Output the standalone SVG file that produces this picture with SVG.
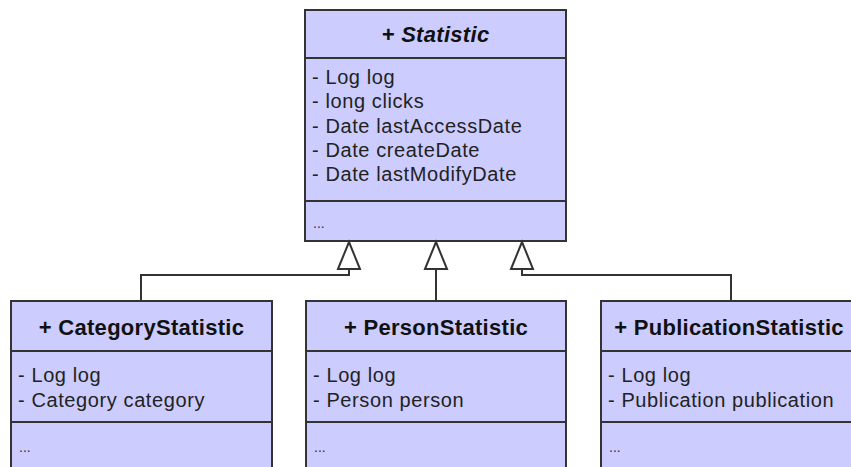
<svg xmlns="http://www.w3.org/2000/svg" width="851" height="467" viewBox="0 0 851 467">
<style>
.box{fill:#CCCCFF;stroke:#333333;stroke-width:2}
.div{stroke:#333333;stroke-width:2;fill:none}
.title{font-family:"Liberation Sans",Arial,sans-serif;font-size:22px;font-weight:bold;fill:#111;text-anchor:middle;letter-spacing:0.3px}
.attr{font-family:"Liberation Sans",Arial,sans-serif;font-size:20px;fill:#222;letter-spacing:0.6px}
.dots{font-family:"Liberation Sans",Arial,sans-serif;font-size:14px;fill:#333}
.edge{fill:none;stroke:#333333;stroke-width:2}
</style>
<defs>
<marker id="gen" viewBox="0 0 27 22" refX="27" refY="11" markerWidth="27" markerHeight="22" markerUnits="userSpaceOnUse" orient="auto" overflow="visible">
<path d="M0,0 L27,11 L0,22 Z" fill="#ffffff" stroke="#333333" stroke-width="2"/>
</marker>
</defs>
<g id="Statistic">
<rect class="box" x="305" y="10" width="261" height="231"/>
<line class="div" x1="305" y1="58" x2="566" y2="58"/>
<line class="div" x1="305" y1="201" x2="566" y2="201"/>
<text class="title" x="435.5" y="42" font-style="italic">+ Statistic</text>
<text class="attr" x="312" y="84">- Log log</text>
<text class="attr" x="312" y="108">- long clicks</text>
<text class="attr" x="312" y="133">- Date lastAccessDate</text>
<text class="attr" x="312" y="157">- Date createDate</text>
<text class="attr" x="312" y="181">- Date lastModifyDate</text>
<text class="dots" x="313" y="228">...</text>
</g>
<g id="CategoryStatistic">
<rect class="box" x="11" y="301" width="261" height="180"/>
<line class="div" x1="11" y1="351" x2="272" y2="351"/>
<line class="div" x1="11" y1="422" x2="272" y2="422"/>
<text class="title" x="141.5" y="335">+ CategoryStatistic</text>
<text class="attr" x="18" y="382">- Log log</text>
<text class="attr" x="18" y="407">- Category category</text>
<text class="dots" x="19" y="452">...</text>
</g>
<g id="PersonStatistic">
<rect class="box" x="306" y="301" width="260" height="180"/>
<line class="div" x1="306" y1="351" x2="566" y2="351"/>
<line class="div" x1="306" y1="422" x2="566" y2="422"/>
<text class="title" x="436" y="335">+ PersonStatistic</text>
<text class="attr" x="313" y="382">- Log log</text>
<text class="attr" x="313" y="407">- Person person</text>
<text class="dots" x="314" y="452">...</text>
</g>
<g id="PublicationStatistic">
<rect class="box" x="601" y="301" width="261" height="180"/>
<line class="div" x1="601" y1="351" x2="862" y2="351"/>
<line class="div" x1="601" y1="422" x2="862" y2="422"/>
<text class="title" x="729" y="335">+ PublicationStatistic</text>
<text class="attr" x="608" y="382">- Log log</text>
<text class="attr" x="608" y="407">- Publication publication</text>
<text class="dots" x="609" y="452">...</text>
</g>
<g id="connectors">
<path class="edge" d="M141,301 V275 H349 V242" marker-end="url(#gen)"/>
<path class="edge" d="M436,301 V242" marker-end="url(#gen)"/>
<path class="edge" d="M731,301 V275 H522 V242" marker-end="url(#gen)"/>
</g>
</svg>
